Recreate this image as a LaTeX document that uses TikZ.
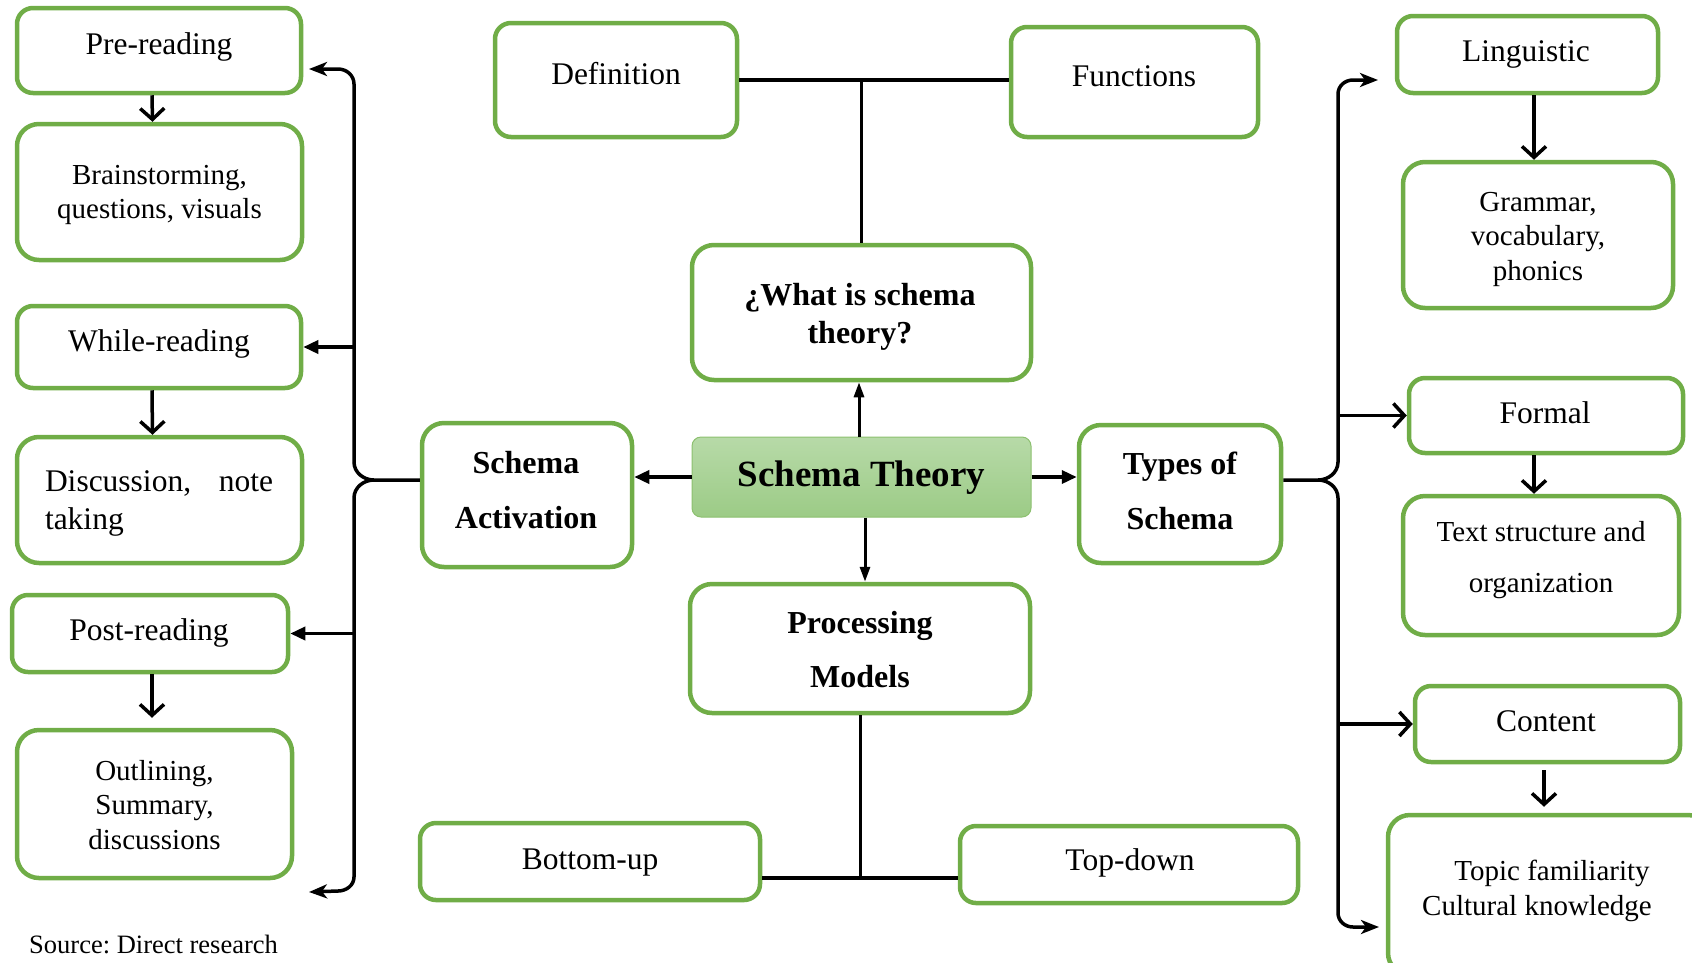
\documentclass[tikz,border=0pt]{standalone}
\usepackage{fontspec}
\setmainfont{Liberation Serif}
\usetikzlibrary{arrows.meta}
\definecolor{boxgreen}{HTML}{70AD47}
\definecolor{stTop}{HTML}{B7DAA8}
\definecolor{stBot}{HTML}{9CCB86}
\definecolor{stLine}{HTML}{8CC06F}
\frenchspacing
\begin{document}
\begin{tikzpicture}[x=1pt,y=-1pt,
  box/.style={draw=boxgreen, line width=4.5pt, rounded corners=16pt, fill=white, inner sep=0pt},
  bigbox/.style={box, rounded corners=22pt},
  txt/.style={font=\fontsize{31.5}{#1}\selectfont, align=center, inner sep=0pt},
  txt/.default=36,
  sub/.style={font=\fontsize{29}{#1}\selectfont, align=center, inner sep=0pt},
  sub/.default=34.5,
  btxt/.style={font=\fontsize{32}{#1}\selectfont\bfseries, align=center, inner sep=0pt},
  btxt/.default=38,
  conn/.style={line width=3.5pt},
  cline/.style={line width=3pt},
  tline/.style={line width=4.5pt},
  tri/.style={-{Triangle[length=15pt,width=13pt]}},
  slimtri/.style={-{Triangle[length=15pt,width=10pt]}},
  barb/.style={-{Straight Barb[length=11pt,width=24pt]}},
  stl/.style={-{Stealth[length=18pt,width=14pt,inset=5pt]}}
]
\useasboundingbox (0,0) rectangle (1692,962);
\clip (0,0) rectangle (1692,962);

% ---------- boxes ----------
\node[box, minimum width=284pt, minimum height=85pt] (pre) at (159,50.5) {};
\node[bigbox, minimum width=285pt, minimum height=136pt] (brain) at (159.5,192) {};
\node[box, minimum width=284pt, minimum height=82pt] (while) at (159,347) {};
\node[bigbox, minimum width=285pt, minimum height=126pt] (disc) at (159.5,500) {};
\node[box, minimum width=276pt, minimum height=77pt] (post) at (150,633.5) {};
\node[bigbox, minimum width=275pt, minimum height=148pt] (outl) at (154.5,804) {};

\node[box, minimum width=242pt, minimum height=114pt] (def) at (616,80) {};
\node[box, minimum width=247pt, minimum height=110pt] (func) at (1134.5,82) {};
\node[bigbox, minimum width=339pt, minimum height=135pt] (what) at (861.5,312.5) {};
\node[draw=stLine, line width=1pt, rounded corners=9pt, top color=stTop, bottom color=stBot,
      minimum width=339pt, minimum height=80pt, inner sep=0pt] (st) at (861.5,477) {};
\node[bigbox, minimum width=210pt, minimum height=144pt] (sa) at (527,495) {};
\node[bigbox, minimum width=202pt, minimum height=138pt] (types) at (1180,494) {};
\node[bigbox, minimum width=340pt, minimum height=129pt] (proc) at (860,648.5) {};
\node[box, minimum width=340pt, minimum height=77pt] (bu) at (590,861.5) {};
\node[box, minimum width=338pt, minimum height=77pt] (td) at (1129,864.5) {};

\node[box, minimum width=261pt, minimum height=77pt] (ling) at (1527.5,54.5) {};
\node[bigbox, minimum width=270pt, minimum height=146pt] (gram) at (1538,235) {};
\node[box, minimum width=274pt, minimum height=75pt] (formal) at (1546,415.5) {};
\node[bigbox, minimum width=276pt, minimum height=139pt] (textst) at (1541,565.5) {};
\node[box, minimum width=265pt, minimum height=76pt] (content) at (1547.5,724) {};
\node[bigbox, minimum width=322pt, minimum height=160pt] (topic) at (1549,895) {};

% ---------- texts ----------
\node[txt] (tpre) at (159,47) {Pre-reading};
\node[sub] (tbrain) at (159.5,195) {Brainstorming,\\questions, visuals};
\node[txt] (twhile) at (159,344) {While-reading};
\node[txt=38, text width=228pt, align=left] (tdisc) at (159,503) {Discussion,\hfill note\\taking};
\node[txt] (tpost) at (149,633) {Post-reading};
\node[sub] (toutl) at (154.5,805) {Outlining,\\Summary,\\discussions};

\node[txt] (tdef) at (616,74) {Definition};
\node[txt] (tfunc) at (1134,76) {Functions};
\node[btxt] (twhat) at (860,317) {¿What is schema\\theory?};
\node[font=\fontsize{37}{40}\selectfont\bfseries, inner sep=0pt] (tst) at (861.5,478) {Schema Theory};
\node[btxt=55] (tsa) at (526,490) {Schema\\Activation};
\node[btxt=55] (ttypes) at (1180,491) {Types of\\Schema};
\node[btxt=54] (tproc) at (860,650) {Processing\\Models};
\node[txt] (tbu) at (590,863) {Bottom-up};
\node[txt] (ttd) at (1130,863) {Top-down};

\node[txt] (tling) at (1526,54) {Linguistic};
\node[sub] (tgram) at (1538,239) {Grammar,\\vocabulary,\\phonics};
\node[txt] (tformal) at (1545,413) {Formal};
\node[sub=51] (ttextst) at (1541,560) {Text structure and\\organization};
\node[txt] (tcontent) at (1546,721) {Content};
\node[sub] (ttopic) at (1537,891) {\hspace*{30pt}Topic familiarity\\Cultural knowledge};

\node[font=\fontsize{26.5}{30}\selectfont, anchor=west, inner sep=0pt] (src) at (29,944) {Source: Direct research};

% ---------- left bracket ----------
\coordinate (lx) at (354,0);
\coordinate (ltop) at (309,69);
\coordinate (lbot) at (309,892);
\coordinate (lcusp) at (374,480);
\draw[conn, stl] (354,462) -- (354,84) to[out=90,in=0] (338,69) -- (ltop);
\draw[conn, stl] (354,498) -- (354,877) to[out=-90,in=0] (338,891) -- (lbot);
\draw[conn] (354,462) to[out=-90,in=180] (lcusp) -- (lcusp -| sa.west);
\draw[conn] (354,498) to[out=90,in=180] (lcusp);
\draw[conn, tri] (lx |- while.east) -- (while.east);
\draw[conn, tri] (lx |- post.east) -- (post.east);

\draw[conn, barb] ([xshift=-7pt]pre.south) -- ([xshift=-7pt]brain.north);
\draw[conn, barb] ([xshift=-7pt]while.south) -- ([xshift=-7pt]disc.north);
\draw[conn, barb] ([xshift=2pt]post.south) -- ([xshift=-2.5pt,yshift=10pt]outl.north);

% ---------- right bracket ----------
\coordinate (rx) at (1338,0);
\coordinate (rtop) at (1378,80);
\coordinate (rbot) at (1379,927);
\coordinate (rcusp) at (1318,480);
\draw[conn, stl] (1338,462) -- (1338,94) to[out=90,in=180] (1353,80) -- (rtop);
\draw[conn, stl] (1338,498) -- (1338,913) to[out=-90,in=180] (1353,927) -- (rbot);
\draw[conn] (1338,462) to[out=-90,in=0] (rcusp) -- (rcusp -| types.east);
\draw[conn] (1338,498) to[out=90,in=0] (rcusp);
\draw[conn, barb] (rx |- formal.west) -- (formal.west);
\draw[conn, barb] (rx |- content.west) -- (content.west);

\draw[conn, barb] ([xshift=6.5pt]ling.south) -- ([xshift=-4pt]gram.north);
\draw[conn, barb] ([xshift=-12pt]formal.south) -- ([xshift=-7pt]textst.north);
\draw[conn, barb] ([xshift=-3.5pt,yshift=-6pt]content.south) -- ([xshift=-5pt,yshift=6pt]topic.north);

% ---------- centre ----------
\draw[cline, slimtri] ([xshift=-2.5pt]st.north) -- ([xshift=-2.5pt]what.south);
\draw[cline, slimtri] ([xshift=3.5pt]st.south) -- ([xshift=5pt]proc.north);
\draw[conn, tri] (st.west) -- (st.west -| sa.east);
\draw[conn, tri] (st.east) -- (st.east -| types.west);

\draw[tline] (def.east) -- (def.east -| func.west);
\draw[cline] (what.north) -- (what.north |- def.east);
\coordinate (bt) at (860,878);
\draw[cline] (proc.south) -- (bt);
\draw[tline] (bt -| bu.east) -- (bt -| td.west);
\end{tikzpicture}
\end{document}
